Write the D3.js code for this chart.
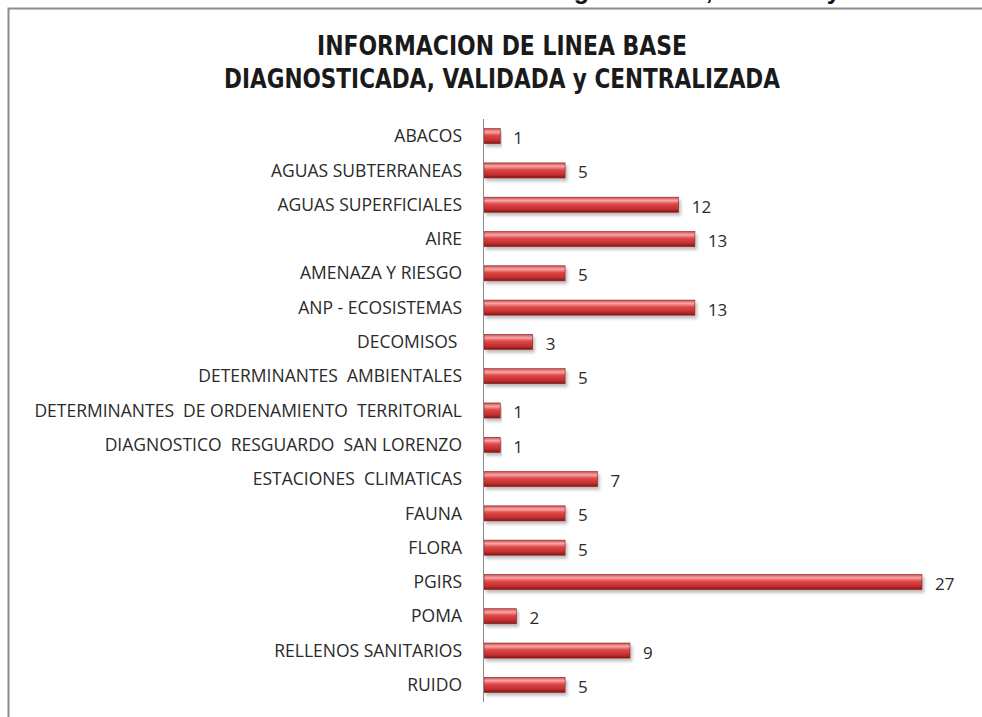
<!DOCTYPE html>
<html>
<head>
<meta charset="utf-8">
<script src="https://cdn.jsdelivr.net/npm/d3@7"></script>
<style>
  html, body { margin: 0; padding: 0; background: #fff; overflow: hidden; }
  svg { display: block; }
  svg text { white-space: pre; }
</style>
</head>
<body>
<div id="chart"></div>
<script>
// categories and counts
var categories = [
  "ABACOS", "AGUAS SUBTERRANEAS", "AGUAS SUPERFICIALES", "AIRE",
  "AMENAZA Y RIESGO", "ANP - ECOSISTEMAS", "DECOMISOS ",
  "DETERMINANTES  AMBIENTALES", "DETERMINANTES  DE ORDENAMIENTO  TERRITORIAL",
  "DIAGNOSTICO  RESGUARDO  SAN LORENZO", "ESTACIONES  CLIMATICAS", "FAUNA",
  "FLORA", "PGIRS", "POMA", "RELLENOS SANITARIOS", "RUIDO"
];
var counts = [1, 5, 12, 13, 5, 13, 3, 5, 1, 1, 7, 5, 5, 27, 2, 9, 5];
var titleLines = ["INFORMACION DE LINEA BASE", "DIAGNOSTICADA, VALIDADA y CENTRALIZADA"];
var caption = "Gráfico 1. Información de línea base diagnosticada, validada y centralizada";

var data = categories.map(function (c, i) { return { name: c, value: counts[i] }; });

var width = 982, height = 717;
var margin = {top: 119, right: 60, bottom: 15, left: 484};

var svg = d3.select("#chart").append("svg")
    .attr("width", width)
    .attr("height", height);

// gradient for the shiny bars
var defs = svg.append("defs");
var grad = defs.append("linearGradient")
    .attr("id", "barGrad")
    .attr("x1", 0).attr("y1", 0).attr("x2", 0).attr("y2", 1);
grad.append("stop").attr("offset", "0%").attr("stop-color", "#d24a4a");
grad.append("stop").attr("offset", "22%").attr("stop-color", "#f6a8a8");
grad.append("stop").attr("offset", "45%").attr("stop-color", "#e04848");
grad.append("stop").attr("offset", "80%").attr("stop-color", "#c02c2c");
grad.append("stop").attr("offset", "100%").attr("stop-color", "#7e1717");

var shadow = defs.append("filter").attr("id", "shadow")
    .attr("x", "-5%").attr("y", "-30%").attr("width", "115%").attr("height", "190%");
shadow.append("feDropShadow")
    .attr("dx", 2).attr("dy", 3).attr("stdDeviation", 1.5)
    .attr("flood-color", "#000").attr("flood-opacity", 0.25);

// caption of the page, cut off at the top edge as in the source
svg.append("text")
    .attr("x", 992)
    .attr("y", -1)
    .attr("text-anchor", "end")
    .style("font-family", "Liberation Sans, Arial, sans-serif")
    .style("font-weight", "bold")
    .style("font-size", "25px")
    .style("fill", "#111")
    .text(caption);

// chart frame: only top and left edges are in view
svg.append("path")
    .attr("d", "M1200,8.5H8.5V900")
    .attr("fill", "none")
    .attr("stroke", "#8c8c8c")
    .attr("stroke-width", 2);

// title
svg.append("g").selectAll("text")
    .data(titleLines)
    .enter().append("text")
    .attr("x", 502)
    .attr("y", function (d, i) { return 55 + i * 33; })
    .attr("text-anchor", "middle")
    .attr("textLength", function (d, i) { return i === 0 ? 370 : 556; })
    .attr("lengthAdjust", "spacingAndGlyphs")
    .style("font-family", "Liberation Sans Narrow, DejaVu Sans Condensed, Arial, sans-serif")
    .style("font-weight", "bold")
    .style("font-size", "26px")
    .style("fill", "#1a1a1a")
    .text(function (d) { return d; });

var y = d3.scaleBand()
    .domain(categories)
    .range([margin.top, height - margin.bottom])
    .paddingInner(0.56)
    .paddingOuter(0.28);

var x = d3.scaleLinear()
    .domain([0, 27])
    .range([margin.left, 922]);

// category labels
svg.append("g").selectAll("text")
    .data(data)
    .enter().append("text")
    .attr("x", 462)
    .attr("y", function (d) { return y(d.name) + y.bandwidth() / 2; })
    .attr("dy", "0.35em")
    .attr("text-anchor", "end")
    .style("font-family", "Open Sans, sans-serif")
    .style("font-size", "17.5px")
    .style("fill", "#2a2a2a")
    .text(function (d) { return d.name; });

// bars
svg.append("g").selectAll("rect")
    .data(data)
    .enter().append("rect")
    .attr("x", x(0))
    .attr("y", function (d) { return y(d.name); })
    .attr("width", function (d) { return x(d.value) - x(0); })
    .attr("height", y.bandwidth())
    .attr("fill", "url(#barGrad)")
    .attr("stroke", "#8a2020")
    .attr("stroke-width", 0.6)
    .attr("filter", "url(#shadow)");

// value labels
svg.append("g").selectAll("text")
    .data(data)
    .enter().append("text")
    .attr("x", function (d) { return x(d.value) + 13; })
    .attr("y", function (d) { return y(d.name) + y.bandwidth() / 2 + 2; })
    .attr("dy", "0.35em")
    .style("font-family", "Open Sans, sans-serif")
    .style("font-size", "17px")
    .style("fill", "#2a2a2a")
    .text(function (d) { return d.value; });

// vertical axis line
svg.append("line")
    .attr("x1", margin.left - 0.5).attr("x2", margin.left - 0.5)
    .attr("y1", margin.top).attr("y2", height - margin.bottom)
    .attr("stroke", "#8a8a8a")
    .attr("stroke-width", 1);
</script>
</body>
</html>
